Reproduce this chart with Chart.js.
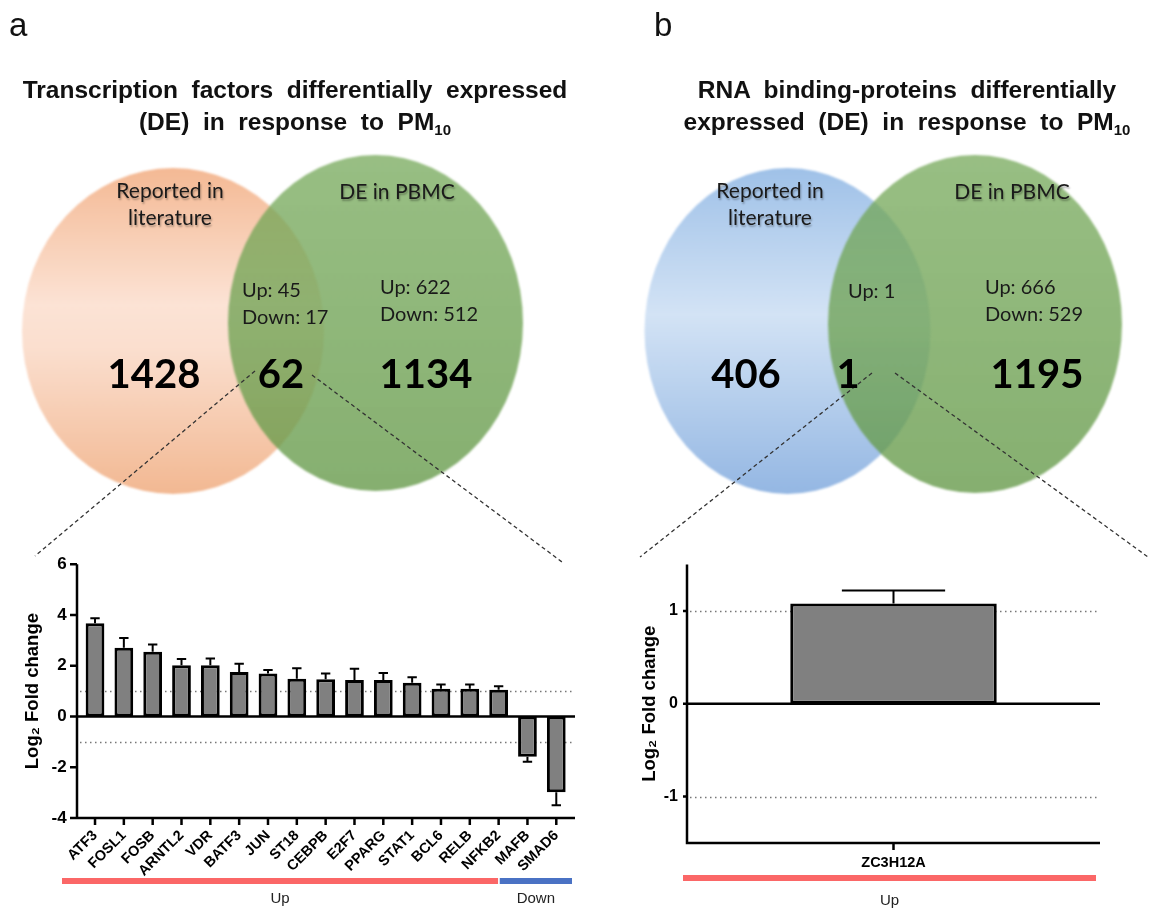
<!DOCTYPE html>
<html lang="en">
<head>
<meta charset="utf-8">
<title>Transcription factors and RNA-binding proteins differentially expressed in response to PM10</title>
<script src="https://cdn.jsdelivr.net/npm/chart.js@4.4.1/dist/chart.umd.min.js"></script>
<style>
  html, body { margin: 0; padding: 0; background: #fff; }
  #fig { position: relative; width: 1151px; height: 913px; overflow: hidden; background: #fff; }
  #fig canvas { position: absolute; }
  .panel { position: absolute; font: 33px 'Liberation Sans', Arial, sans-serif; line-height: 33px; color: #111; }
  .ttl { position: absolute; font: bold 24.5px 'Liberation Sans', Arial, sans-serif; line-height: 32px;
         text-align: center; white-space: pre; color: #111; }
  .ttl .sub { font-size: 15px; position: relative; top: 5px; }
  .vt { position: absolute; font-family: Lato, 'Open Sans', sans-serif; white-space: nowrap; color: #1a1a1a; }
  .vt.head { font-size: 21px; line-height: 27px; text-align: center; transform: translate(-50%, -50%);
             text-shadow: 1px 2px 2px rgba(0,0,0,0.3); }
  .vt.ud { font-size: 20px; line-height: 27px; transform: translateY(-50%); }
  .vt.big { font-size: 40px; line-height: 48px; font-weight: bold; color: #000; transform: translate(-50%, -50%); }
</style>
</head>
<body>
<div id="fig">
  <canvas id="venn" width="1151" height="913" style="left:0;top:0"></canvas>
  <canvas id="tfBars" width="600" height="373" style="left:0;top:540px"></canvas>
  <canvas id="rbpBars" width="531" height="373" style="left:620px;top:540px"></canvas>
  <div class="panel" style="left:9px;top:8px">a</div>
  <div class="panel" style="left:654px;top:8px">b</div>
  <div class="ttl" style="left:0;top:74px;width:590px">Transcription  factors  differentially  expressed
(DE)  in  response  to  PM<span class="sub">10</span></div>
  <div class="ttl" style="left:640px;top:74px;width:534px">RNA  binding-proteins  differentially
expressed  (DE)  in  response  to  PM<span class="sub">10</span></div>
  <div id="vennText"></div>
</div>
<script>
// ---------------- data ----------------
// Panel a: transcription factors (log2 fold change, mean + SEM)
const tfGenes     = ['ATF3','FOSL1','FOSB','ARNTL2','VDR','BATF3','JUN','ST18','CEBPB','E2F7','PPARG','STAT1','BCL6','RELB','NFKB2','MAFB','SMAD6'];
const tfLog2FC    = [3.67, 2.71, 2.55, 2.02, 2.02, 1.75, 1.69, 1.49, 1.47, 1.44, 1.44, 1.33, 1.09, 1.09, 1.05, -1.59, -2.99];
const tfSEM       = [0.20, 0.38, 0.29, 0.24, 0.26, 0.33, 0.14, 0.41, 0.22, 0.44, 0.27, 0.22, 0.17, 0.17, 0.14, 0.19, 0.51];
const tfDirection = ['Up','Up','Up','Up','Up','Up','Up','Up','Up','Up','Up','Up','Up','Up','Up','Down','Down'];
const tfYTicks    = [-4, -2, 0, 2, 4, 6];

// Panel b: RNA-binding proteins
const rbpGenes     = ['ZC3H12A'];
const rbpLog2FC    = [1.08];
const rbpSEM       = [0.14];
const rbpDirection = ['Up'];
const rbpYTicks    = [-1, 0, 1];

// fold-change thresholds shown as dotted lines
const thresholds = [1, -1];

// Venn counts: [literature only, overlap, PBMC only]
const tfVennCounts     = [1428, 62, 1134];
const tfOverlapUpDown  = [45, 17];
const tfPbmcUpDown     = [622, 512];
const rbpVennCounts    = [406, 1, 1195];
const rbpOverlapUpDown = [1];
const rbpPbmcUpDown    = [666, 529];

// ---------------- layout ----------------
const ARIAL = "'Liberation Sans', Arial, sans-serif";

const vennShapes = [
  { cx: 173,   cy: 331, rx: 151,   ry: 163, stops: [[0,'#f4b994'],[0.42,'#fce3d5'],[0.55,'#fbdfcf'],[1,'#f2b892']] },
  { cx: 375.5, cy: 323, rx: 147.5, ry: 168, stops: [[0,'rgba(116,168,88,0.74)'],[1,'rgba(100,153,72,0.78)']] },
  { cx: 787.5, cy: 331, rx: 143,   ry: 163, stops: [[0,'#9fc1e8'],[0.45,'#d3e3f5'],[1,'#94b7e3']] },
  { cx: 975,   cy: 324, rx: 147,   ry: 169, stops: [[0,'rgba(116,168,88,0.74)'],[1,'rgba(100,153,72,0.78)']] }
];
const connectors = [
  [[255, 371], [35, 556]],
  [[312, 375], [562, 562]],
  [[872, 373], [640, 557]],
  [[895, 373], [1148, 557]]
];

// ---------------- Venn text ----------------
const vennText = [
  { cls: 'head', x: 170,  y: 203, html: 'Reported in<br>literature' },
  { cls: 'head', x: 397,  y: 190, html: 'DE in PBMC' },
  { cls: 'ud',   x: 242,  y: 303, html: `Up: ${tfOverlapUpDown[0]}<br>Down: ${tfOverlapUpDown[1]}` },
  { cls: 'ud',   x: 380,  y: 300, html: `Up: ${tfPbmcUpDown[0]}<br>Down: ${tfPbmcUpDown[1]}` },
  { cls: 'big',  x: 154,  y: 373, html: tfVennCounts[0] },
  { cls: 'big',  x: 281,  y: 373, html: tfVennCounts[1] },
  { cls: 'big',  x: 426,  y: 373, html: tfVennCounts[2] },
  { cls: 'head', x: 770,  y: 203, html: 'Reported in<br>literature' },
  { cls: 'head', x: 1012, y: 190, html: 'DE in PBMC' },
  { cls: 'ud',   x: 848,  y: 290, html: `Up: ${rbpOverlapUpDown[0]}` },
  { cls: 'ud',   x: 985,  y: 300, html: `Up: ${rbpPbmcUpDown[0]}<br>Down: ${rbpPbmcUpDown[1]}` },
  { cls: 'big',  x: 746,  y: 373, html: rbpVennCounts[0] },
  { cls: 'big',  x: 848,  y: 373, html: rbpVennCounts[1] },
  { cls: 'big',  x: 1037, y: 373, html: rbpVennCounts[2] }
];
const vt = document.getElementById('vennText');
vennText.forEach(t => {
  const d = document.createElement('div');
  d.className = 'vt ' + t.cls;
  d.style.left = t.x + 'px';
  d.style.top = t.y + 'px';
  d.innerHTML = t.html;
  vt.appendChild(d);
});

// ---------------- plugins ----------------
// Ellipses of the Venn diagrams, centred on each dataset's point
const vennPlugin = {
  id: 'vennShapes',
  beforeDatasetsDraw(chart) {
    const { ctx, scales: { x, y } } = chart;
    chart.data.datasets.forEach((ds, i) => {
      const s = ds.shape;
      if (!s) return;
      const p = chart.getDatasetMeta(i).data[0];
      const rx = Math.abs(x.getPixelForValue(s.cx + s.rx) - p.x);
      const ry = Math.abs(y.getPixelForValue(s.cy + s.ry) - p.y);
      const g = ctx.createLinearGradient(0, p.y - ry, 0, p.y + ry);
      s.stops.forEach(([o, c]) => g.addColorStop(o, c));
      ctx.save();
      ctx.filter = 'blur(0.8px)';
      ctx.fillStyle = g;
      ctx.beginPath();
      ctx.ellipse(p.x, p.y, rx, ry, 0, 0, Math.PI * 2);
      ctx.fill();
      ctx.restore();
    });
  },
  afterDatasetsDraw(chart) {
    const { ctx, scales: { x, y } } = chart;
    ctx.save();
    ctx.strokeStyle = '#333';
    ctx.lineWidth = 1.3;
    ctx.setLineDash([4, 3]);
    connectors.forEach(([a, b]) => {
      ctx.beginPath();
      ctx.moveTo(x.getPixelForValue(a[0]), y.getPixelForValue(a[1]));
      ctx.lineTo(x.getPixelForValue(b[0]), y.getPixelForValue(b[1]));
      ctx.stroke();
    });
    ctx.restore();
  }
};

// Prism-style axes: dotted thresholds, axis lines, outward tick marks
const prismAxes = {
  id: 'prismAxes',
  beforeDatasetsDraw(chart, args, o) {
    const { ctx, chartArea: a, scales: { y } } = chart;
    const left = a.left - o.extendLeft, right = a.right + o.extendRight;
    ctx.save();
    ctx.strokeStyle = '#777';
    ctx.lineWidth = 1.5;
    ctx.setLineDash([1.5, 3.5]);
    o.refLines.forEach(v => {
      const py = Math.round(y.getPixelForValue(v)) + 0.5;
      ctx.beginPath(); ctx.moveTo(left + 3, py); ctx.lineTo(right, py); ctx.stroke();
    });
    ctx.restore();
  },
  afterDatasetsDraw(chart, args, o) {
    const { ctx, chartArea: a, scales: { x, y } } = chart;
    const left = a.left - o.extendLeft, right = a.right + o.extendRight;
    const lw = o.lineWidth;
    ctx.save();
    ctx.strokeStyle = '#000';
    ctx.lineWidth = lw;
    ctx.beginPath();
    ctx.moveTo(left, a.top); ctx.lineTo(left, a.bottom + lw / 2);
    ctx.moveTo(left - lw / 2, a.bottom); ctx.lineTo(right, a.bottom);
    const z = y.getPixelForValue(0);
    ctx.moveTo(left, z); ctx.lineTo(right, z);
    y.ticks.forEach(t => {
      const py = y.getPixelForValue(t.value);
      ctx.moveTo(left - o.yTickLen, py); ctx.lineTo(left, py);
    });
    chart.data.labels.forEach((l, i) => {
      const px = x.getPixelForValue(i);
      ctx.moveTo(px, a.bottom); ctx.lineTo(px, a.bottom + o.xTickLen);
    });
    ctx.stroke();
    ctx.restore();
  }
};

// SEM whiskers pointing away from zero, cap half as wide as the bar
const errorBars = {
  id: 'errorBars',
  afterDatasetsDraw(chart, args, o) {
    const { ctx, scales: { y } } = chart;
    ctx.save();
    ctx.strokeStyle = '#000';
    ctx.lineWidth = o.lineWidth;
    chart.data.datasets.forEach((ds, di) => {
      chart.getDatasetMeta(di).data.forEach((bar, i) => {
        const v = ds.data[i], e = ds.errors[i];
        const end = y.getPixelForValue(v + Math.sign(v) * e);
        const hw = bar.width * o.capRatio / 2;
        ctx.beginPath();
        ctx.moveTo(bar.x, bar.y); ctx.lineTo(bar.x, end);
        ctx.moveTo(bar.x - hw, end); ctx.lineTo(bar.x + hw, end);
        ctx.stroke();
      });
    });
    ctx.restore();
  }
};

// Coloured band + caption under each run of Up / Down genes
const groupBands = {
  id: 'groupBands',
  afterDraw(chart, args, o) {
    const { ctx, scales: { x } } = chart;
    const dirs = o.direction;
    const half = x.width / dirs.length / 2;
    const runs = [];
    dirs.forEach((d, i) => {
      const last = runs[runs.length - 1];
      if (last && last.dir === d) last.to = i; else runs.push({ dir: d, from: i, to: i });
    });
    ctx.save();
    runs.forEach((r, k) => {
      const [eL, eR] = o.extend[k];
      const x0 = x.getPixelForValue(r.from) - half - eL;
      const x1 = x.getPixelForValue(r.to) + half + eR;
      ctx.fillStyle = o.colors[r.dir];
      ctx.fillRect(x0, o.bandTop, x1 - x0, o.bandHeight);
      ctx.fillStyle = '#222';
      ctx.font = `15px ${ARIAL}`;
      ctx.textAlign = 'center';
      ctx.textBaseline = 'middle';
      ctx.fillText(r.dir, (x0 + x1) / 2, o.labelY);
    });
    ctx.restore();
  }
};

// ---------------- charts ----------------
const bandColors = { Up: '#fb6767', Down: '#4a72c4' };

new Chart(document.getElementById('venn'), {
  type: 'scatter',
  data: { datasets: vennShapes.map(s => ({ data: [{ x: s.cx, y: s.cy }], pointRadius: 0, shape: s })) },
  options: {
    responsive: false, animation: false, devicePixelRatio: 1, events: [],
    layout: { padding: 0 },
    plugins: { legend: { display: false }, tooltip: { enabled: false } },
    scales: {
      x: { type: 'linear', min: 0, max: 1151, display: false },
      y: { type: 'linear', min: 0, max: 913, reverse: true, display: false }
    }
  },
  plugins: [vennPlugin]
});

function barOptions(cfg) {
  return {
    responsive: false, animation: false, devicePixelRatio: 1, events: [],
    layout: { padding: { top: cfg.padTop, right: cfg.padRight, bottom: 0, left: 0 } },
    plugins: {
      legend: { display: false },
      tooltip: { enabled: false },
      prismAxes: { extendLeft: cfg.extendLeft, extendRight: cfg.extendRight, lineWidth: 2.5,
                   yTickLen: cfg.yTickLen, xTickLen: 7, refLines: thresholds },
      errorBars: { lineWidth: 2, capRatio: 0.5 },
      groupBands: { direction: cfg.direction, colors: bandColors, extend: cfg.bandExtend,
                    bandTop: cfg.bandTop, bandHeight: 6, labelY: cfg.labelY }
    },
    scales: {
      x: {
        grid: { display: false, drawTicks: false }, border: { display: false },
        ticks: { color: '#000', font: { family: ARIAL, weight: 'bold', size: cfg.xFont },
                 minRotation: cfg.rotation, maxRotation: cfg.rotation, autoSkip: false, padding: cfg.xPad },
        afterFit: s => { s.height = cfg.xHeight; }
      },
      y: {
        min: cfg.yMin, max: cfg.yMax,
        grid: { display: false, drawTicks: false }, border: { display: false },
        afterBuildTicks: s => { s.ticks = cfg.yTicks.map(v => ({ value: v })); },
        ticks: { color: '#000', font: { family: ARIAL, weight: 'bold', size: cfg.yFont }, padding: cfg.yPad },
        title: { display: true, text: 'Log\u2082 Fold change', color: '#000',
                 font: { family: ARIAL, weight: 'bold', size: 18.5 }, padding: { top: cfg.titlePad, bottom: 0 } },
        afterFit: s => { s.width = cfg.yWidth; }
      }
    }
  };
}

new Chart(document.getElementById('tfBars'), {
  type: 'bar',
  data: {
    labels: tfGenes,
    datasets: [{ data: tfLog2FC, errors: tfSEM, backgroundColor: '#808080', borderColor: '#000',
                 borderWidth: 3, borderSkipped: false, categoryPercentage: 1, barPercentage: 0.65 }]
  },
  options: barOptions({
    padTop: 15, padRight: 29.3, yWidth: 80.6, xHeight: 95, yMin: -4, yMax: 6, yTicks: tfYTicks,
    yFont: 17, yPad: 14, titlePad: 22, xFont: 14.5, rotation: 45, xPad: 9,
    extendLeft: 3.6, extendRight: 4.3, yTickLen: 7,
    direction: tfDirection, bandExtend: [[18.6, -15], [13.3, 1.3]], bandTop: 338, labelY: 359
  }),
  plugins: [prismAxes, errorBars, groupBands]
});

new Chart(document.getElementById('rbpBars'), {
  type: 'bar',
  data: {
    labels: rbpGenes,
    datasets: [{ data: rbpLog2FC, errors: rbpSEM, backgroundColor: '#808080', borderColor: '#000',
                 borderWidth: 3, borderSkipped: false, categoryPercentage: 1, barPercentage: 0.5 }]
  },
  options: barOptions({
    padTop: 24.5, padRight: 51, yWidth: 67, xHeight: 70, yMin: -1.5, yMax: 1.5, yTicks: rbpYTicks,
    yFont: 16, yPad: 9, titlePad: 19, xFont: 14.5, rotation: 0, xPad: 11,
    extendLeft: 0, extendRight: 0, yTickLen: 4,
    direction: rbpDirection, bandExtend: [[4, -4]], bandTop: 335, labelY: 361
  }),
  plugins: [prismAxes, errorBars, groupBands]
});
</script>
</body>
</html>
